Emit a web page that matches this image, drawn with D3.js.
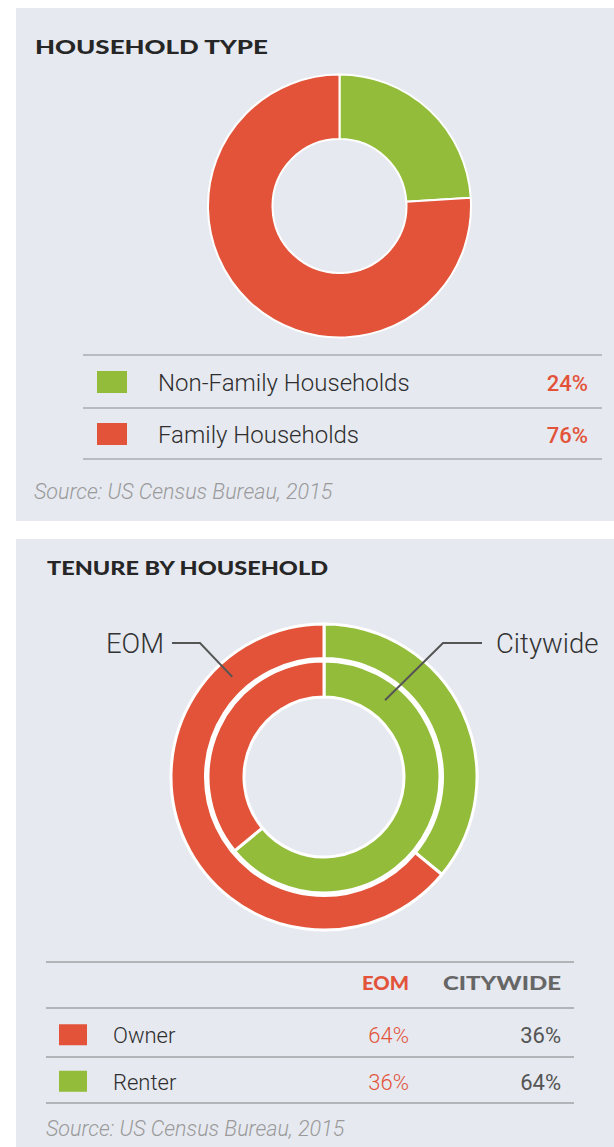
<!DOCTYPE html>
<html>
<head>
<meta charset="utf-8">
<script src="https://cdn.jsdelivr.net/npm/d3@7"></script>
<style>
  html, body { margin: 0; padding: 0; background: #ffffff; }
  svg { display: block; }
</style>
</head>
<body>
<div id="chart"></div>
<script>
// ---------- DATA ----------
const householdTitle = "HOUSEHOLD TYPE";
const householdTypes = ["Non-Family Households", "Family Households"];
const householdShares = [24, 76];

const tenureTitle = "TENURE BY HOUSEHOLD";
const tenureTypes = ["Owner", "Renter"];
const eomShares = [64, 36];
const citywideShares = [36, 64];
const ringNames = ["EOM", "Citywide"];
const tableHeaders = ["EOM", "CITYWIDE"];
const sourceNote = "Source: US Census Bureau, 2015";

// ---------- STYLE ----------
const RED = "#e2533a";
const GREEN = "#93bc3a";
const PANEL = "#e6e9f0";
const W = 614, H = 1147;

const svg = d3.select("#chart").append("svg")
  .attr("width", W).attr("height", H);
svg.append("rect").attr("width", W).attr("height", H).attr("fill", "#fff");

// panels
svg.append("rect").attr("x", 16).attr("y", 8).attr("width", W - 16).attr("height", 513).attr("fill", PANEL);
svg.append("rect").attr("x", 16).attr("y", 539).attr("width", W - 16).attr("height", H - 539).attr("fill", PANEL);

const titleFont = "Lato, 'Open Sans', sans-serif";
const bodyFont = "Roboto, 'Noto Sans', sans-serif";

// ---------- PANEL 1 ----------
svg.append("text").attr("x", 35).attr("y", 54)
  .attr("font-family", titleFont).attr("font-weight", 900).attr("font-size", 19.5)
  .attr("fill", "#262626").attr("textLength", 233).attr("lengthAdjust", "spacingAndGlyphs")
  .text(householdTitle);

const typeColor = d3.scaleOrdinal().domain(householdTypes).range([GREEN, RED]);
const pie1 = d3.pie().sort(null).value(d => d.v);
const hhData = householdTypes.map((k, i) => ({ k, v: householdShares[i] }));
const arc1 = d3.arc().innerRadius(67).outerRadius(131.5);
svg.append("g").attr("transform", "translate(339.5,206)")
  .selectAll("path").data(pie1(hhData)).join("path")
  .attr("d", arc1).attr("fill", d => typeColor(d.data.k))
  .attr("stroke", "#fff").attr("stroke-width", 2);

// legend table
const legY = d3.scaleBand().domain(householdTypes).range([355, 459]);
const leg = svg.append("g");
leg.selectAll("line").data([355, 408, 459]).join("line")
  .attr("x1", 83).attr("x2", 602).attr("y1", d => d).attr("y2", d => d)
  .attr("stroke", "#a9abb0").attr("stroke-width", 1.5);
const legRow = leg.selectAll("g.row").data(hhData).join("g").attr("class", "row")
  .attr("transform", d => `translate(0,${legY(d.k) + legY.bandwidth() / 2})`);
legRow.append("rect").attr("x", 97).attr("y", -10).attr("width", 30).attr("height", 22)
  .attr("fill", d => typeColor(d.k));
legRow.append("text").attr("x", 158).attr("y", 10)
  .attr("font-family", bodyFont).attr("font-weight", 300).attr("font-size", 24).attr("fill", "#2e2e2e")
  .text(d => d.k);
legRow.append("text").attr("x", 588).attr("y", 9.5)
  .attr("font-family", bodyFont).attr("font-weight", 500).attr("font-size", 22).attr("fill", RED)
  .attr("text-anchor", "end")
  .text(d => d.v + "%");

svg.append("text").attr("x", 34).attr("y", 499)
  .attr("font-family", bodyFont).attr("font-style", "italic").attr("font-weight", 300).attr("font-size", 21.5)
  .attr("fill", "#9a9a9a").text(sourceNote);

// ---------- PANEL 2 ----------
svg.append("text").attr("x", 47).attr("y", 575)
  .attr("font-family", titleFont).attr("font-weight", 900).attr("font-size", 19.5)
  .attr("fill", "#262626").attr("textLength", 281).attr("lengthAdjust", "spacingAndGlyphs")
  .text(tenureTitle);

const tenureColor = d3.scaleOrdinal().domain(tenureTypes).range([RED, GREEN]);
// rings drawn Renter first (clockwise from 12 o'clock), then Owner
const ringOrder = [1, 0];
const pie2 = d3.pie().sort(null).value(d => d.v);
const cx = 324, cy = 777;
const rings = [
  { name: ringNames[0], shares: eomShares, inner: 118.5, outer: 153 },
  { name: ringNames[1], shares: citywideShares, inner: 80, outer: 116 }
];
const g2 = svg.append("g").attr("transform", `translate(${cx},${cy})`);
rings.forEach(r => {
  const data = ringOrder.map(i => ({ k: tenureTypes[i], v: r.shares[i] }));
  const a = d3.arc().innerRadius(r.inner).outerRadius(r.outer);
  g2.append("g").selectAll("path").data(pie2(data)).join("path")
    .attr("d", a).attr("fill", d => tenureColor(d.data.k))
    .attr("stroke", "#fff").attr("stroke-width", 3);
});

// leader lines
function polar(angleDeg, radius) {
  const a = angleDeg * Math.PI / 180;
  return [cx + radius * Math.sin(a), cy - radius * Math.cos(a)];
}
const leaders = [
  { name: ringNames[0], ring: rings[0], angle: -42.5, elbowX: 200, endX: 172, textX: 164, anchor: "end" },
  { name: ringNames[1], ring: rings[1], angle: 38.5, elbowX: 443, endX: 482, textX: 496, anchor: "start" }
];
const lineY = 643;
leaders.forEach(l => {
  const p = polar(l.angle, (l.ring.inner + l.ring.outer) / 2);
  g2.append("polyline")
    .attr("transform", `translate(${-cx},${-cy})`)
    .attr("points", [[l.endX, lineY], [l.elbowX, lineY], p].map(q => q.join(",")).join(" "))
    .attr("fill", "none").attr("stroke", "#555").attr("stroke-width", 2);
  svg.append("text").attr("x", l.textX).attr("y", lineY + 10).attr("text-anchor", l.anchor)
    .attr("font-family", bodyFont).attr("font-weight", 300).attr("font-size", 27.5).attr("fill", "#333")
    .text(l.name);
});

// table
const tbl = svg.append("g");
tbl.selectAll("line").data([962, 1008, 1057, 1103]).join("line")
  .attr("x1", 46).attr("x2", 574).attr("y1", d => d).attr("y2", d => d)
  .attr("stroke", "#a0a2a6").attr("stroke-width", 1.5);
const colX = [409, 561];
const headColors = [RED, "#666"];
const headWidths = [47, 118];
tableHeaders.forEach((h, i) => {
  tbl.append("text").attr("x", colX[i] - headWidths[i]).attr("y", 990)
    .attr("font-family", titleFont).attr("font-weight", 900).attr("font-size", 18.5)
    .attr("textLength", headWidths[i]).attr("lengthAdjust", "spacingAndGlyphs")
    .attr("fill", headColors[i]).text(h);
});
const rowY = d3.scaleBand().domain(tenureTypes).range([1010, 1103]);
const rows = tbl.selectAll("g.row").data(tenureTypes).join("g").attr("class", "row")
  .attr("transform", d => `translate(0,${rowY(d) + rowY.bandwidth() / 2})`);
rows.append("rect").attr("x", 59).attr("y", -9).attr("width", 28).attr("height", 21)
  .attr("fill", d => tenureColor(d));
rows.append("text").attr("x", 113).attr("y", 10)
  .attr("font-family", bodyFont).attr("font-weight", 300).attr("font-size", 22).attr("fill", "#2e2e2e").text(d => d);
rows.append("text").attr("x", colX[0]).attr("y", 10).attr("text-anchor", "end")
  .attr("font-family", bodyFont).attr("font-weight", 300).attr("font-size", 22).attr("fill", RED)
  .text((d, i) => eomShares[i] + "%");
rows.append("text").attr("x", colX[1]).attr("y", 10).attr("text-anchor", "end")
  .attr("font-family", bodyFont).attr("font-weight", 400).attr("font-size", 22).attr("fill", "#555")
  .text((d, i) => citywideShares[i] + "%");

svg.append("text").attr("x", 46).attr("y", 1136)
  .attr("font-family", bodyFont).attr("font-style", "italic").attr("font-weight", 300).attr("font-size", 21.5)
  .attr("fill", "#9a9a9a").text(sourceNote);
</script>
</body>
</html>
